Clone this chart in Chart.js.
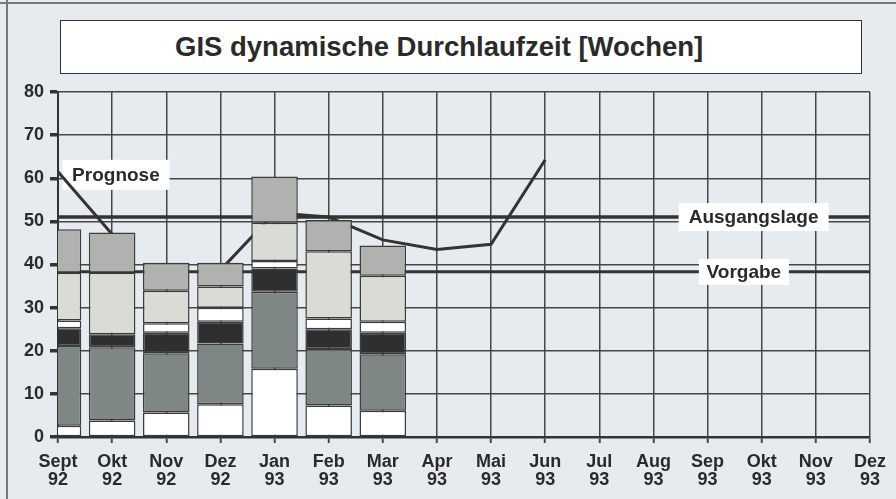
<!DOCTYPE html>
<html lang="de">
<head>
  <meta charset="UTF-8" />
  <title>GIS dynamische Durchlaufzeit</title>
  <script src="https://cdn.jsdelivr.net/npm/chart.js"></script>
  <style>
    html, body { margin: 0; padding: 0; background: #e6ebef; }
    .wrap { position: relative; width: 896px; height: 499px; }
    .titel {
      position: absolute;
      left: 60px; top: 20px;
      width: 802px; height: 54px;
      box-sizing: border-box;
      border: 1.5px solid #333;
      background: #fff;
      font: bold 27.5px 'Liberation Sans', Arial, sans-serif;
      color: #2a2a2a;
      line-height: 52px;
      padding-left: 114px;
      white-space: nowrap;
    }
  </style>
</head>
<body>
  <div class="wrap">
    <canvas id="chart" width="896" height="499"></canvas>
    <div class="titel">GIS dynamische Durchlaufzeit [Wochen]</div>
  </div>
  <script>
    const monate = ['Sept', 'Okt', 'Nov', 'Dez', 'Jan', 'Feb', 'Mar', 'Apr', 'Mai', 'Jun', 'Jul', 'Aug', 'Sep', 'Okt', 'Nov', 'Dez'];
    const jahre = ['92', '92', '92', '92', '93', '93', '93', '93', '93', '93', '93', '93', '93', '93', '93', '93'];

    // Balkensegmente von unten nach oben (Wochen)
    const weissUnten = [2.6, 3.8, 5.7, 7.6, 15.8, 7.3, 6.1];
    const dunkelgrau = [18.5, 17.0, 13.7, 14.1, 17.9, 13.1, 13.1];
    const schwarz = [4.1, 3.0, 4.8, 5.0, 5.4, 4.6, 5.0];
    const weissMitte = [1.8, null, 2.2, 3.3, 1.7, 2.5, 2.5];
    const hellgrau = [11.1, 14.3, 7.5, 4.9, 8.9, 15.6, 10.7];
    const mittelgrau = [10.1, 9.3, 6.5, 5.5, 10.7, 7.2, 7.0];

    const prognose = [61.5, 47, null, 38.7, 52, 51, 45.7, 43.5, 44.7, 64.3, null, null, null, null, null, null];
    const ausgangslage = 51;
    const vorgabe = 38.3;

    const yTicks = [0, 10, 20, 30, 40, 50, 60, 70, 80];

    const FONT = "'Liberation Sans', Arial, sans-serif";
    const INK = '#2a2a2a';
    const GRID = '#464646';

    const labels = monate.map((m, i) => [m, jahre[i]]);

    function bar(data, color) {
      return {
        type: 'bar', data, stack: 'ist', order: 0,
        backgroundColor: color, borderColor: '#3c3c3c', borderWidth: 1.5,
        borderSkipped: false, categoryPercentage: 1, barPercentage: 0.86, clip: 0
      };
    }
    function linie(data, width, stack) {
      return {
        type: 'line', data, stack, order: 1,
        borderColor: '#333', borderWidth: width, pointRadius: 0, tension: 0,
        spanGaps: false, fill: false
      };
    }

    // Hintergrund, Rahmenlinie und weisse Beschriftungsfelder
    const deko = {
      id: 'deko',
      beforeDraw(c) {
        const ctx = c.ctx;
        ctx.save();
        ctx.fillStyle = '#e6ebef';
        ctx.fillRect(0, 0, c.width, c.height);
        ctx.strokeStyle = '#777';
        ctx.lineWidth = 2;
        ctx.beginPath();
        ctx.moveTo(7, 0); ctx.lineTo(7, c.height);
        ctx.moveTo(0, 3); ctx.lineTo(c.width, 3);
        ctx.stroke();
        ctx.restore();
      },
      beforeDatasetsDraw(c) {
        feld(c, 'Prognose', 1.07, 60.8, 107, 30);
      },
      afterDatasetsDraw(c) {
        feld(c, 'Ausgangslage', 12.85, ausgangslage, 150, 28);
        feld(c, 'Vorgabe', 12.67, vorgabe, 90, 26);
      }
    };
    function feld(c, text, idx, wert, w, h) {
      const ctx = c.ctx;
      const x = c.scales.x.getPixelForValue(idx);
      const y = c.scales.y.getPixelForValue(wert);
      ctx.save();
      ctx.fillStyle = '#fff';
      ctx.fillRect(x - w / 2, y - h / 2, w, h);
      ctx.fillStyle = INK;
      ctx.font = 'bold 19px ' + FONT;
      ctx.textAlign = 'center';
      ctx.textBaseline = 'middle';
      ctx.fillText(text, x, y + 1);
      ctx.restore();
    }

    new Chart(document.getElementById('chart'), {
      type: 'bar',
      data: {
        labels,
        datasets: [
          bar(weissUnten, '#ffffff'),
          bar(dunkelgrau, '#7f8785'),
          bar(schwarz, '#2f2f2f'),
          bar(weissMitte, '#ffffff'),
          bar(hellgrau, '#dbdbd6'),
          bar(mittelgrau, '#b1b1af'),
          linie(prognose, 3, 'p'),
          linie(monate.map(() => ausgangslage), 3.5, 'a'),
          linie(monate.map(() => vorgabe), 3, 'v')
        ]
      },
      options: {
        responsive: false,
        animation: false,
        layout: { padding: { left: 0, right: 21, top: 92, bottom: 0 } },
        plugins: { legend: { display: false }, tooltip: { enabled: false } },
        scales: {
          x: {
            stacked: true,
            offset: false,
            grid: { offset: false, color: GRID, lineWidth: 1.5, tickLength: 6, tickColor: GRID, tickWidth: 2 },
            border: { color: '#333', width: 2.5 },
            ticks: {
              autoSkip: false, maxRotation: 0, padding: 10, color: INK,
              font: { family: FONT, size: 18, weight: 'bold', lineHeight: 1.0 }
            },
            afterFit: s => { s.height = 62; }
          },
          y: {
            stacked: true,
            min: yTicks[0], max: yTicks[yTicks.length - 1],
            grid: { color: GRID, lineWidth: 1.5, tickLength: 8, tickColor: '#333', tickWidth: 3.5 },
            border: { color: '#333', width: 2 },
            ticks: {
              stepSize: 10, padding: 6, color: INK,
              font: { family: FONT, size: 18, weight: 'bold' }
            },
            afterBuildTicks: s => { s.ticks = yTicks.map(v => ({ value: v })); },
            afterFit: s => { s.width = 58; }
          }
        }
      },
      plugins: [deko]
    });
  </script>
</body>
</html>
